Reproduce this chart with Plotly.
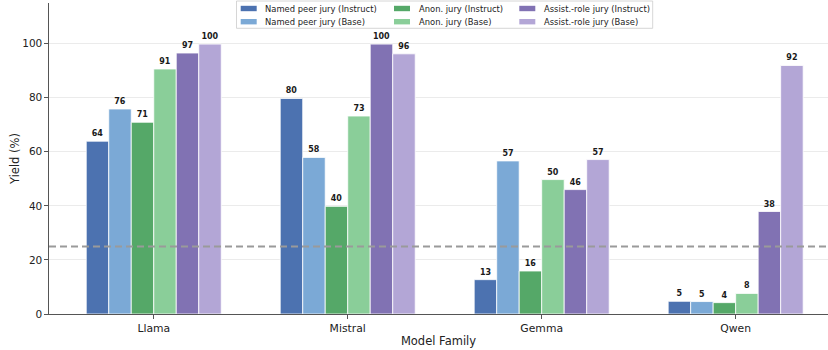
import plotly.graph_objects as go

categories = ["Llama", "Mistral", "Gemma", "Qwen"]
series_names = [
    "Named peer jury (Instruct)",
    "Named peer jury (Base)",
    "Anon. jury (Instruct)",
    "Anon. jury (Base)",
    "Assist.-role jury (Instruct)",
    "Assist.-role jury (Base)",
]
named_instruct = [63.9, 79.7, 12.7, 4.7]
named_base = [75.8, 57.9, 56.6, 4.6]
anon_instruct = [70.9, 39.8, 15.9, 4.2]
anon_base = [90.6, 73.2, 49.7, 7.6]
assist_instruct = [96.5, 99.8, 46.0, 37.9]
assist_base = [99.8, 96.2, 57.1, 91.9]
series_values = [named_instruct, named_base, anon_instruct, anon_base, assist_instruct, assist_base]
colors = ["#4C72B0", "#7BA9D6", "#55A868", "#8ACE99", "#8172B3", "#B3A6D6"]
chance_level = 25
y_ticks = [0, 20, 40, 60, 80, 100]

FONT = "DejaVu Sans"
W, H = 828, 350
ML, MR, MT, MB = 49, 0, 3, 36
PW, PH = W - ML - MR, H - MT - MB


def px_x(p):
    return (p - ML) / PW


def px_y(p):
    return (H - MB - p) / PH


fig = go.Figure()
for name, vals, col in zip(series_names, series_values, colors):
    fig.add_trace(go.Bar(
        name=name, x=categories, y=vals,
        marker=dict(color=col, line=dict(color="white", width=0.8)),
        texttemplate="%{y:.0f}", textposition="outside",
        outsidetextfont=dict(family=FONT, size=8, color="#1a1a1a", weight="bold"),
        cliponaxis=False, showlegend=False,
    ))

fig.add_hline(y=chance_level, line=dict(color="#9a9a9a", width=2, dash="7px,4px"), layer="above")

# legend (3 columns x 2 rows, column-major like the original)
shapes = []
annotations = []
bx0, bx1, by0, by1 = 236.5, 652.7, 1.0, 28.3
shapes.append(dict(type="rect", xref="paper", yref="paper",
                   x0=px_x(bx0), x1=px_x(bx1), y0=px_y(by1), y1=px_y(by0),
                   line=dict(color="#cccccc", width=0.8), fillcolor="rgba(255,255,255,0.85)", layer="above"))
col_patch_x = [240.7, 394.0, 519.3]
col_text_x = [263.3, 417.3, 542.3]
row_y = [8.5, 21.7]
for i, (name, col) in enumerate(zip(series_names, colors)):
    c, r = i // 2, i % 2
    shapes.append(dict(type="rect", xref="paper", yref="paper",
                       x0=px_x(col_patch_x[c]), x1=px_x(col_patch_x[c] + 16),
                       y0=px_y(row_y[r] + 2.7), y1=px_y(row_y[r] - 2.7),
                       line=dict(width=0), fillcolor=col, layer="above"))
    annotations.append(dict(xref="paper", yref="paper", x=px_x(col_text_x[c]), y=px_y(row_y[r]),
                            text=name, showarrow=False, xanchor="left", yanchor="middle",
                            font=dict(family=FONT, size=8.4, color="#222222")))

fig.update_layout(
    width=W, height=H,
    margin=dict(l=ML, r=MR, t=MT, b=MB, autoexpand=False),
    barmode="group", bargap=0.304, bargroupgap=0,
    plot_bgcolor="white", paper_bgcolor="white",
    font=dict(family=FONT, color="#222222"),
    shapes=list(fig.layout.shapes) + shapes,
    annotations=annotations,
)
fig.update_xaxes(
    range=[-0.54, 3.476], showline=True, linecolor="#555555", linewidth=1.2,
    ticks="outside", ticklen=3.5, tickwidth=1, tickcolor="#555555",
    tickfont=dict(family=FONT, size=10.8, color="#222222"),
    title=dict(text="Model Family", font=dict(family=FONT, size=11.5, color="#222222"), standoff=3),
    showgrid=False, zeroline=False,
)
fig.update_yaxes(
    range=[0, 115], tickvals=y_ticks, showline=True, linecolor="#555555", linewidth=1.2,
    ticks="outside", ticklen=3.5, tickwidth=1, tickcolor="#555555",
    tickfont=dict(family=FONT, size=10.5, color="#222222"),
    title=dict(text="Yield (%)", font=dict(family=FONT, size=11.5, color="#222222"), standoff=0),
    showgrid=True, gridcolor="#ebebeb", gridwidth=1, zeroline=False,
)

fig.write_html("out.html")
